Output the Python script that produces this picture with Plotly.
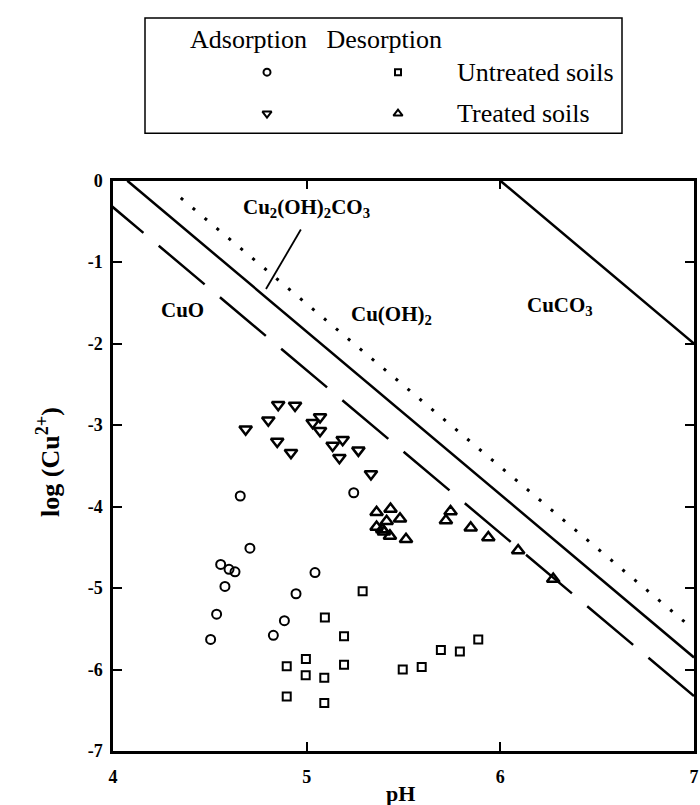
import plotly.graph_objects as go

# ---- Measured points: pH vs log(Cu2+) ----
# Untreated soils, adsorption (open circles)
untreated_ads_ph = [4.657, 5.243, 4.707, 4.556, 4.599, 4.630, 5.043, 4.578, 4.945,
                    4.535, 4.885, 4.504, 4.828]
untreated_ads_log = [-3.87, -3.83, -4.51, -4.71, -4.77, -4.80, -4.81, -4.98, -5.07,
                     -5.32, -5.40, -5.63, -5.58]

# Untreated soils, desorption (open squares)
untreated_des_ph = [5.289, 5.094, 5.193, 4.996, 4.897, 4.995, 5.091, 5.193, 4.897,
                    5.091, 5.496, 5.594, 5.693, 5.791, 5.886]
untreated_des_log = [-5.04, -5.36, -5.59, -5.87, -5.96, -6.07, -6.10, -5.94, -6.33,
                     -6.41, -6.00, -5.97, -5.76, -5.78, -5.63]

# Treated soils, adsorption (open down-triangles)
treated_ads_ph = [4.853, 4.940, 4.802, 4.685, 5.069, 5.031, 5.069, 4.848, 4.919,
                  5.186, 5.134, 5.169, 5.267, 5.332]
treated_ads_log = [-2.75, -2.76, -2.94, -3.05, -2.90, -2.97, -3.07, -3.20, -3.34,
                   -3.18, -3.25, -3.40, -3.31, -3.60]

# Treated soils, desorption (open up-triangles)
treated_des_ph = [5.361, 5.433, 5.482, 5.413, 5.361, 5.390, 5.399, 5.430, 5.513,
                  5.743, 5.719, 5.847, 5.938, 6.092, 6.273]
treated_des_log = [-4.07, -4.03, -4.15, -4.18, -4.25, -4.28, -4.31, -4.36, -4.40,
                   -4.06, -4.17, -4.26, -4.38, -4.54, -4.89]

# ---- Solubility lines (end points) ----
cuo_line_ph = [3.92, 7.0]            # CuO (long dashes)
cuo_line_log = [-0.166, -6.326]
cuoh2_line_ph = [4.074, 7.0]         # Cu(OH)2 (solid)
cuoh2_line_log = [0.0, -5.852]
malachite_line_ph = [4.35, 6.98]     # Cu2(OH)2CO3 (dotted)
malachite_line_log = [-0.212, -5.472]
cuco3_line_ph = [6.0, 7.0]           # CuCO3 (solid)
cuco3_line_log = [0.0, -2.0]

x_ticks = [4, 5, 6, 7]
y_ticks = [0, -1, -2, -3, -4, -5, -6, -7]

SERIF = "Liberation Serif, Times New Roman, serif"
BLACK = "#000000"

fig = go.Figure()

# Boundary lines
fig.add_trace(go.Scatter(x=cuo_line_ph, y=cuo_line_log, mode="lines",
                         line=dict(color=BLACK, width=2.5, dash="60px,20px")))
fig.add_trace(go.Scatter(x=cuoh2_line_ph, y=cuoh2_line_log, mode="lines",
                         line=dict(color=BLACK, width=2.5)))
fig.add_trace(go.Scatter(x=malachite_line_ph, y=malachite_line_log, mode="lines",
                         line=dict(color=BLACK, width=3, dash="3px,12.6px")))
fig.add_trace(go.Scatter(x=cuco3_line_ph, y=cuco3_line_log, mode="lines",
                         line=dict(color=BLACK, width=2.5)))

# Data markers
def pts(xs, ys, symbol, size, lw=2):
    return go.Scatter(x=xs, y=ys, mode="markers",
                      marker=dict(symbol=symbol, size=size, color=BLACK,
                                  line=dict(color=BLACK, width=lw)))

fig.add_trace(pts(untreated_ads_ph, untreated_ads_log, "circle-open", 9))
fig.add_trace(pts(untreated_des_ph, untreated_des_log, "square-open", 8))
fig.add_trace(pts(treated_ads_ph, treated_ads_log, "triangle-down-open", 11, 2.5))
fig.add_trace(pts(treated_des_ph, treated_des_log, "triangle-up-open", 11, 2.5))

# Legend panel drawn on a pixel-scaled overlay axis above the plot
ROW1, ROW2, ROW3 = 30, 63, 105
legend_marks = [
    (267, ROW2, "circle-open", 7),
    (398, ROW2, "square-open", 6),
    (267, ROW3, "triangle-down-open", 8),
    (398, ROW3, "triangle-up-open", 8),
]
for lx, ly, sym, sz in legend_marks:
    fig.add_trace(go.Scatter(x=[lx], y=[ly], xaxis="x2", yaxis="y2", mode="markers",
                             marker=dict(symbol=sym, size=sz, color=BLACK,
                                         line=dict(color=BLACK, width=2))))

fig.add_shape(type="rect", xref="x2", yref="y2", x0=145, x1=622, y0=8, y1=125,
              line=dict(color=BLACK, width=1.5))

legend_font = dict(family=SERIF, size=26, color=BLACK)
fig.add_annotation(xref="x2", yref="y2", x=188, y=ROW1, xanchor="left", yanchor="middle",
                   text="Adsorption   Desorption", showarrow=False, font=legend_font)
fig.add_annotation(xref="x2", yref="y2", x=455, y=ROW2, xanchor="left", yanchor="middle",
                   text="Untreated soils", showarrow=False, font=legend_font)
fig.add_annotation(xref="x2", yref="y2", x=455, y=ROW3, xanchor="left", yanchor="middle",
                   text="Treated soils", showarrow=False, font=legend_font)

# Region labels
label_font = dict(family=SERIF, size=21, color=BLACK)
fig.add_annotation(x=5.0, y=-0.33, text="<b>Cu<sub>2</sub>(OH)<sub>2</sub>CO<sub>3</sub></b>",
                   showarrow=False, font=label_font)
fig.add_annotation(x=4.36, y=-1.59, text="<b>CuO</b>", showarrow=False, font=label_font)
fig.add_annotation(x=5.44, y=-1.65, text="<b>Cu(OH)<sub>2</sub></b>", showarrow=False,
                   font=label_font)
fig.add_annotation(x=6.31, y=-1.54, text="<b>CuCO<sub>3</sub></b>", showarrow=False,
                   font=label_font)

# Leader line from the Cu2(OH)2CO3 label to its boundary
fig.add_shape(type="line", xref="x", yref="y", x0=4.97, y0=-0.60, x1=4.79, y1=-1.33,
              line=dict(color=BLACK, width=1.8))

# Axis titles
fig.add_annotation(xref="paper", yref="paper", x=0.495, y=-0.058, yanchor="middle",
                   text="<b>pH</b>", showarrow=False,
                   font=dict(family=SERIF, size=22, color=BLACK))
fig.add_annotation(xref="paper", yref="paper", x=-0.112, y=0.39, xanchor="center",
                   text="<b>log (Cu<sup>2+</sup>)</b>", textangle=-90, showarrow=False,
                   font=dict(family=SERIF, size=26, color=BLACK))

PLOT_TOP = 173
PLOT_BOTTOM = 751
main_top_frac = (PLOT_BOTTOM - PLOT_TOP) / PLOT_BOTTOM

tick_font = dict(family=SERIF, size=18, color=BLACK)
fig.update_layout(
    width=700, height=805,
    margin=dict(l=113, r=6, t=0, b=805 - PLOT_BOTTOM),
    paper_bgcolor="white", plot_bgcolor="white",
    showlegend=False,
    xaxis=dict(range=[4, 7], tickvals=x_ticks, ticktext=[f"<b>{v}</b>" for v in x_ticks],
               ticks="inside", ticklen=9, tickwidth=2, tickcolor=BLACK,
               showline=True, linewidth=2.5, linecolor=BLACK, mirror="ticks",
               showgrid=False, zeroline=False, tickfont=tick_font,
               ticklabelstandoff=8, domain=[0, 1]),
    yaxis=dict(range=[-7, 0], tickvals=y_ticks, ticktext=[f"<b>{v}</b>" for v in y_ticks],
               ticks="inside", ticklen=9, tickwidth=2, tickcolor=BLACK,
               showline=True, linewidth=2.5, linecolor=BLACK, mirror="ticks",
               showgrid=False, zeroline=False, tickfont=tick_font,
               ticklabelstandoff=4, domain=[0, main_top_frac]),
    xaxis2=dict(range=[113, 694], domain=[0, 1], anchor="y2", visible=False,
                fixedrange=True),
    yaxis2=dict(range=[150, 0], domain=[1 - 150 / PLOT_BOTTOM, 1], anchor="x2",
                visible=False, fixedrange=True),
)

fig.write_html("out.html")
